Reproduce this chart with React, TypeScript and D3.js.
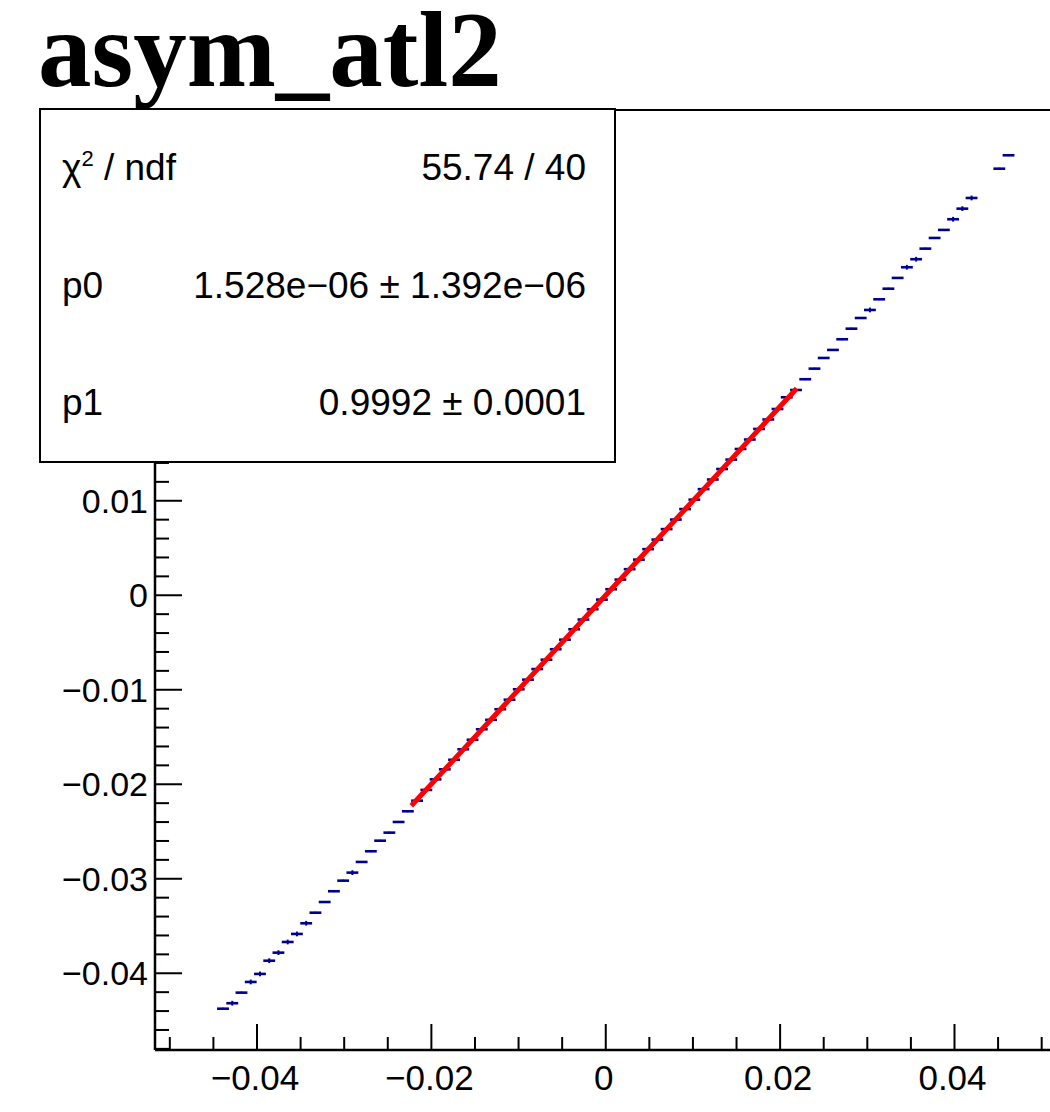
import * as React from 'react';
import * as d3 from 'd3';

// profile points: bin centres (x), mean (y), error on mean (yErr)
const xVals = [
  -0.04390, -0.04284, -0.04178, -0.04072, -0.03966, -0.03860, -0.03754, -0.03648, -0.03542, -0.03436,
  -0.03330, -0.03224, -0.03118, -0.03012, -0.02906, -0.02800, -0.02694, -0.02588, -0.02482, -0.02376,
  -0.02270, -0.02164, -0.02058, -0.01952, -0.01846, -0.01740, -0.01634, -0.01528, -0.01422, -0.01316,
  -0.01210, -0.01104, -0.00998, -0.00892, -0.00786, -0.00680, -0.00574, -0.00468, -0.00362, -0.00256,
  -0.00150, -0.00044, 0.00062, 0.00168, 0.00274, 0.00380, 0.00486, 0.00592, 0.00698, 0.00804,
  0.00910, 0.01016, 0.01122, 0.01228, 0.01334, 0.01440, 0.01546, 0.01652, 0.01758, 0.01864,
  0.01970, 0.02076, 0.02182, 0.02288, 0.02394, 0.02500, 0.02606, 0.02712, 0.02818, 0.02924,
  0.03030, 0.03136, 0.03242, 0.03348, 0.03454, 0.03560, 0.03666, 0.03772, 0.03878, 0.03984,
  0.04090, 0.04196, 0.04514, 0.04620,
];
const yVals = [
  -0.04375, -0.04317, -0.04205, -0.04092, -0.04007, -0.03867, -0.03782, -0.03669, -0.03584, -0.03471,
  -0.03359, -0.03246, -0.03132, -0.03020, -0.02935, -0.02822, -0.02709, -0.02597, -0.02512, -0.02399,
  -0.02286, -0.02174, -0.02060, -0.01948, -0.01842, -0.01741, -0.01630, -0.01529, -0.01418, -0.01318,
  -0.01206, -0.01105, -0.00995, -0.00893, -0.00781, -0.00682, -0.00571, -0.00470, -0.00360, -0.00257,
  -0.00148, -0.00046, 0.00064, 0.00166, 0.00276, 0.00377, 0.00488, 0.00589, 0.00700, 0.00801,
  0.00912, 0.01012, 0.01123, 0.01225, 0.01336, 0.01436, 0.01548, 0.01648, 0.01760, 0.01860,
  0.01971, 0.02095, 0.02172, 0.02286, 0.02398, 0.02511, 0.02596, 0.02709, 0.02821, 0.02934,
  0.03019, 0.03132, 0.03244, 0.03358, 0.03471, 0.03556, 0.03668, 0.03781, 0.03866, 0.03979,
  0.04091, 0.04204, 0.04514, 0.04656,
];
const yErrs = [
  0.0001, 0.00025, 0.0001, 0.00025, 0.00025, 0.00025, 0.00025, 0.00025, 0.00025, 0.00025,
  0.0001, 0.0001, 0.0001, 0.0001, 0.00025, 0.0001, 0.0001, 0.0001, 0.0001, 0.0001,
  0.0001, 0.0001, 0.0001, 0.0001, 0.0001, 0.0001, 0.0001, 0.0001, 0.0001, 0.0001,
  0.0001, 0.0001, 0.0001, 0.0001, 0.0001, 0.0001, 0.0001, 0.0001, 0.0001, 0.0001,
  0.0001, 0.0001, 0.0001, 0.0001, 0.0001, 0.0001, 0.0001, 0.0001, 0.0001, 0.0001,
  0.0001, 0.0001, 0.0001, 0.0001, 0.0001, 0.0001, 0.0001, 0.0001, 0.0001, 0.0001,
  0.0001, 0.0001, 0.0001, 0.0001, 0.0001, 0.0001, 0.0001, 0.0001, 0.0001, 0.0001,
  0.00025, 0.0001, 0.0001, 0.0001, 0.00025, 0.00025, 0.0001, 0.0001, 0.0001, 0.00025,
  0.00025, 0.00025, 0.0001, 0.0001,
];
const binWidth = 0.00106;

// fit result
const fitP0 = 1.528e-6;
const fitP1 = 0.9992;
const fitRange = [-0.0223, 0.0219];

const statsRows = [
  { name: 'χ² / ndf', value: '55.74 / 40' },
  { name: 'p0', value: '1.528e−06 ± 1.392e−06' },
  { name: 'p1', value: '0.9992 ± 0.0001' },
];

const xMajor = [-0.04, -0.02, 0, 0.02, 0.04];
const yMajor = [-0.04, -0.03, -0.02, -0.01, 0, 0.01, 0.02, 0.03, 0.04, 0.05];

const title = 'asym_atl2';

const fmt = (v: number) => (Math.abs(v) < 1e-9 ? '0' : (v < 0 ? '\u2212' : '') + String(+Math.abs(v).toFixed(3)));

const App = () => {
  const W = 1050, H = 1112;
  const left = 155, top = 110, bottom = 1050, right = 1056.5;
  const x = d3.scaleLinear().domain([-0.0517, 0.0517]).range([left, right]);
  const y = d3.scaleLinear().domain([-0.04812, 0.05135]).range([bottom, top]);

  const xMinor = d3.range(-0.05, 0.0501, 0.005).filter(v => !xMajor.some(m => Math.abs(m - v) < 1e-9));
  const yMinor = d3.range(-0.048, 0.0501, 0.002).filter(v => !yMajor.some(m => Math.abs(m - v) < 1e-9));

  const sans = '"Liberation Sans", Arial, Helvetica, sans-serif';
  const axisCol = '#000';
  const markCol = '#000090';

  const fitLine = d3.line<number>().x(d => x(d)).y(d => y(fitP0 + fitP1 * d));

  return (
    <svg width={W} height={H} style={{ position: 'absolute', left: 0, top: 0, background: '#fff' }}>
      <rect x={0} y={0} width={W} height={H} fill="#fff" />

      {/* frame */}
      <line x1={left} y1={top} x2={right} y2={top} stroke={axisCol} strokeWidth={2} />
      <line x1={left} y1={top} x2={left} y2={bottom} stroke={axisCol} strokeWidth={2.5} />
      <line x1={left} y1={bottom} x2={right} y2={bottom} stroke={axisCol} strokeWidth={2.5} />

      {/* x ticks */}
      {xMajor.map(v => (
        <g key={'xm' + v}>
          <line x1={x(v)} x2={x(v)} y1={bottom} y2={bottom - 26} stroke={axisCol} strokeWidth={2} />
          <text x={x(v) - 2} y={1090} textAnchor="middle" fontFamily={sans} fontSize={35}>{fmt(v)}</text>
        </g>
      ))}
      {xMinor.map(v => (
        <line key={'xn' + v} x1={x(v)} x2={x(v)} y1={bottom} y2={bottom - 13} stroke={axisCol} strokeWidth={2} />
      ))}

      {/* y ticks */}
      {yMajor.map(v => (
        <g key={'ym' + v}>
          <line x1={left} x2={left + 27} y1={y(v)} y2={y(v)} stroke={axisCol} strokeWidth={2} />
          <text x={148} y={y(v) + 12} textAnchor="end" fontFamily={sans} fontSize={34}>{fmt(v)}</text>
        </g>
      ))}
      {yMinor.map(v => (
        <line key={'yn' + v} x1={left} x2={left + 14} y1={y(v)} y2={y(v)} stroke={axisCol} strokeWidth={2} />
      ))}

      {/* profile points */}
      {xVals.map((xv, i) => (
        <g key={'p' + i}>
          <line x1={x(xv - binWidth / 2)} x2={x(xv + binWidth / 2)} y1={y(yVals[i])} y2={y(yVals[i])}
            stroke={markCol} strokeWidth={2.6} strokeLinecap="square" />
          <line x1={x(xv)} x2={x(xv)} y1={y(yVals[i] - yErrs[i])} y2={y(yVals[i] + yErrs[i])}
            stroke={markCol} strokeWidth={2} />
        </g>
      ))}

      {/* fit */}
      <path d={fitLine([fitRange[0], 0, fitRange[1]]) || ''} stroke="#ff0000" strokeWidth={5} fill="none" />

      {/* stats box */}
      <rect x={40} y={109} width={575} height={353} fill="#fff" stroke="#000" strokeWidth={2} />
      {statsRows.map((r, i) => {
        const cy = 109 + 353 * (i + 0.5) / statsRows.length;
        return (
          <g key={'s' + i}>
            <text x={62} y={cy + 12} fontFamily={sans} fontSize={37}>
              {i === 0 ? (<>χ<tspan fontSize={22} dy={-14}>2</tspan><tspan dy={14}>{' / ndf'}</tspan></>) : r.name}
            </text>
            <text x={586} y={cy + 12} textAnchor="end" fontFamily={sans} fontSize={37}>{r.value}</text>
          </g>
        );
      })}

      {/* title */}
      <text x={38} y={86} fontFamily='"Liberation Serif", "Times New Roman", serif' fontWeight="bold" fontSize={107}>{title}</text>
    </svg>
  );
};

export default App;
